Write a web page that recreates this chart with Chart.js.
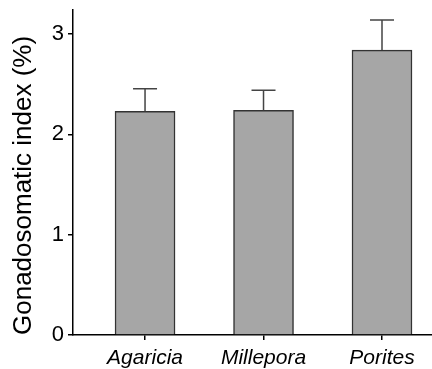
<!DOCTYPE html>
<html>
<head>
<meta charset="utf-8">
<script src="https://cdn.jsdelivr.net/npm/chart.js@4"></script>
<style>
  html, body { margin: 0; padding: 0; background: #fff; }
  #wrap { width: 432px; height: 369px; }
</style>
</head>
<body>
<div id="wrap"><canvas id="gsiChart" width="432" height="369"></canvas></div>
<script>
// values
const species = ['Agaricia', 'Millepora', 'Porites'];
const gsiMean = [2.23, 2.24, 2.84];
const gsiSE   = [0.225, 0.20, 0.30];
const yTicks  = [0, 1, 2, 3];

// bars sit on a linear x scale at 1, 2, 3 so the axis can start left of the first slot
const barData = species.map((s, i) => ({ x: i + 1, y: gsiMean[i] }));

// upward-only error bars with caps
const errorBars = {
  id: 'errorBars',
  afterDatasetsDraw(chart) {
    const { ctx, scales: { x, y } } = chart;
    ctx.save();
    ctx.strokeStyle = '#444';
    ctx.lineWidth = 1.5;
    barData.forEach((d, i) => {
      const px = x.getPixelForValue(d.x);
      const top = y.getPixelForValue(d.y + gsiSE[i]);
      const base = y.getPixelForValue(d.y);
      ctx.beginPath();
      ctx.moveTo(px, base);
      ctx.lineTo(px, top);
      ctx.moveTo(px - 12, top);
      ctx.lineTo(px + 12, top);
      ctx.stroke();
    });
    ctx.restore();
  }
};

new Chart(document.getElementById('gsiChart'), {
  type: 'bar',
  data: {
    datasets: [{
      data: barData,
      backgroundColor: '#a6a6a6',
      borderColor: '#333',
      borderWidth: 1.5,
      barThickness: 60
    }]
  },
  options: {
    responsive: false,
    animation: false,
    layout: { padding: { top: 10, right: 0, left: 0, bottom: 0 } },
    plugins: { legend: { display: false }, tooltip: { enabled: false } },
    scales: {
      x: {
        type: 'linear',
        offset: false,
        min: 0.392,
        max: 3.422,
        afterBuildTicks: s => { s.ticks = species.map((n, i) => ({ value: i + 1 })); },
        afterFit: s => { s.height = 34; s.paddingLeft = 0; s.paddingRight = 0; },
        ticks: {
          callback: v => species[v - 1],
          color: '#000',
          padding: 6,
          maxRotation: 0,
          font: { family: '"Liberation Sans", Arial, sans-serif', size: 21, style: 'italic' }
        },
        grid: { display: true, offset: false, drawOnChartArea: false, drawTicks: true, tickLength: 5, color: '#000', lineWidth: 1.5 },
        border: { display: true, color: '#000', width: 1.5 }
      },
      y: {
        min: 0,
        max: 3.24,
        afterBuildTicks: s => { s.ticks = yTicks.map(v => ({ value: v })); },
        afterFit: s => { s.width = 73; s.paddingTop = 0; s.paddingBottom = 0; },
        ticks: {
          color: '#000',
          padding: 4,
          font: { family: '"Liberation Sans", Arial, sans-serif', size: 22 }
        },
        grid: { display: true, drawOnChartArea: false, drawTicks: true, tickLength: 5, color: '#000', lineWidth: 1.5 },
        border: { display: true, color: '#000', width: 1.5 },
        title: {
          display: true,
          text: 'Gonadosomatic index (%)',
          align: 'start',
          color: '#000',
          padding: { top: 8, bottom: 0 },
          font: { family: '"Liberation Sans", Arial, sans-serif', size: 26 }
        }
      }
    }
  },
  plugins: [errorBars]
});
</script>
</body>
</html>
